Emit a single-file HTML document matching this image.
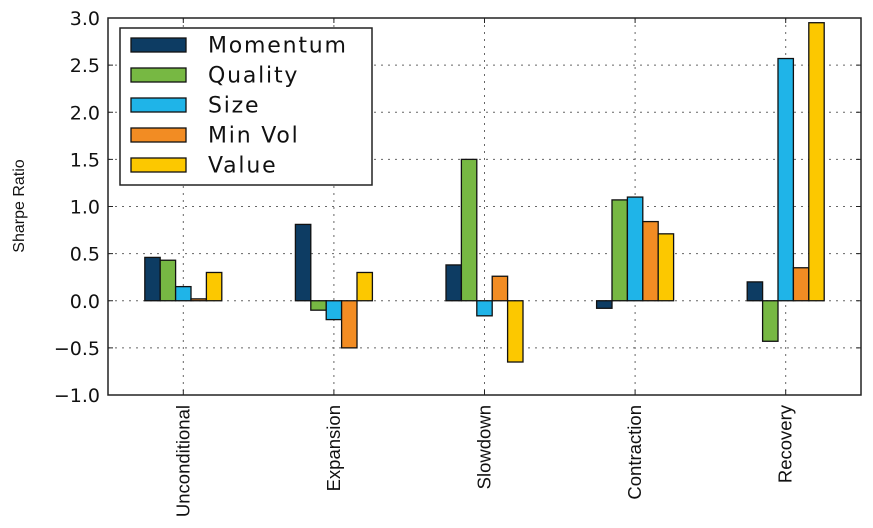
<!DOCTYPE html>
<html><head><meta charset="utf-8"><style>
body{margin:0;background:#fff;}
svg{display:block;font-family:"DejaVu Sans","Liberation Sans",sans-serif;}
</style></head><body>
<svg id="chart" width="873" height="528"></svg>
<script>
const categories=["Unconditional","Expansion","Slowdown","Contraction","Recovery"];
const seriesNames=["Momentum","Quality","Size","Min Vol","Value"];
const momentum=[0.46,0.81,0.38,-0.08,0.20];
const quality=[0.43,-0.10,1.50,1.07,-0.43];
const size=[0.15,-0.20,-0.16,1.10,2.57];
const minVol=[0.02,-0.50,0.26,0.84,0.35];
const valueS=[0.30,0.30,-0.65,0.71,2.95];
const yTicks=[-1.0,-0.5,0.0,0.5,1.0,1.5,2.0,2.5,3.0];
const yTickLabels=["\u22121.0","\u22120.5","0.0","0.5","1.0","1.5","2.0","2.5","3.0"];

const colors=["#0d3c63","#77b843","#1fb4e8","#f28c23","#fcc800"];
const allSeries=[momentum,quality,size,minVol,valueS];
const NS="http://www.w3.org/2000/svg";
const svg=document.getElementById('chart');
const L=108,R=861,T=18,B=395,yMin=-1,yMax=3;
const y=v=>B-(v-yMin)/(yMax-yMin)*(B-T);
const step=(R-L)/categories.length;
const xC=i=>L+step*(i+0.5);
const bw=15.4;
function mk(tag,attrs,parent){const e=document.createElementNS(NS,tag);for(const k in attrs)e.setAttribute(k,attrs[k]);(parent||svg).appendChild(e);return e;}

yTicks.forEach((t,i)=>{
  const g=mk('line',{x1:L,x2:R,y1:y(t),y2:y(t),stroke:'#666','stroke-width':1,'stroke-dasharray':'2,5'});
  
  
  const lab=mk('text',{x:L-8,y:y(t)+7,'text-anchor':'end','font-size':19,fill:'#111'});
  lab.textContent=yTickLabels[i];
  
  
  mk('line',{x1:L,x2:L+5,y1:y(t),y2:y(t),stroke:'#222'});
  mk('line',{x1:R-5,x2:R,y1:y(t),y2:y(t),stroke:'#222'});
});
categories.forEach((c,i)=>{
  const g=mk('line',{x1:xC(i),x2:xC(i),y1:T,y2:B,stroke:'#666','stroke-width':1,'stroke-dasharray':'2,5'});
  
  
  mk('line',{x1:xC(i),x2:xC(i),y1:B-5,y2:B,stroke:'#222'});
  mk('line',{x1:xC(i),x2:xC(i),y1:T,y2:T+5,stroke:'#222'});
  const lab=mk('text',{transform:`translate(${xC(i)+6},405) rotate(-90)`,'text-anchor':'end','font-size':18.5,fill:'#111','font-family':'"Liberation Sans",sans-serif'});
  lab.textContent=c;
  
  
});
categories.forEach((c,i)=>{
  allSeries.forEach((s,j)=>{
    const v=s[i];
    const x0=xC(i)-bw*2.5+bw*j;
    const top=Math.min(y(v),y(0)),h=Math.abs(y(v)-y(0));
    const r=mk('rect',{x:x0,y:top,width:bw,height:Math.max(h,0.5),fill:colors[j],stroke:'#111','stroke-width':1.3});
    
    
  });
});
const fr=mk('rect',{x:L,y:T,width:R-L,height:B-T,fill:'none',stroke:'#222','stroke-width':1.5});


const yl=mk('text',{transform:'translate(24,206) rotate(-90)','text-anchor':'middle','font-size':16,fill:'#111','font-family':'"Liberation Sans",sans-serif'});
yl.textContent='Sharpe Ratio';


const lg=mk('g',{});


mk('rect',{x:120,y:28,width:252,height:157,fill:'#fff',stroke:'#222','stroke-width':1.5},lg);
seriesNames.forEach((n,j)=>{
  const cy=45+j*30;
  const e=mk('g',{},lg);
  
  
  mk('rect',{x:131,y:cy-7,width:55,height:14,fill:colors[j],stroke:'#111','stroke-width':1.3},e);
  const t=mk('text',{x:208,y:cy+7.5,'font-size':22,fill:'#111','letter-spacing':1.8},e);
  t.textContent=n;
});
</script>
</body></html>
